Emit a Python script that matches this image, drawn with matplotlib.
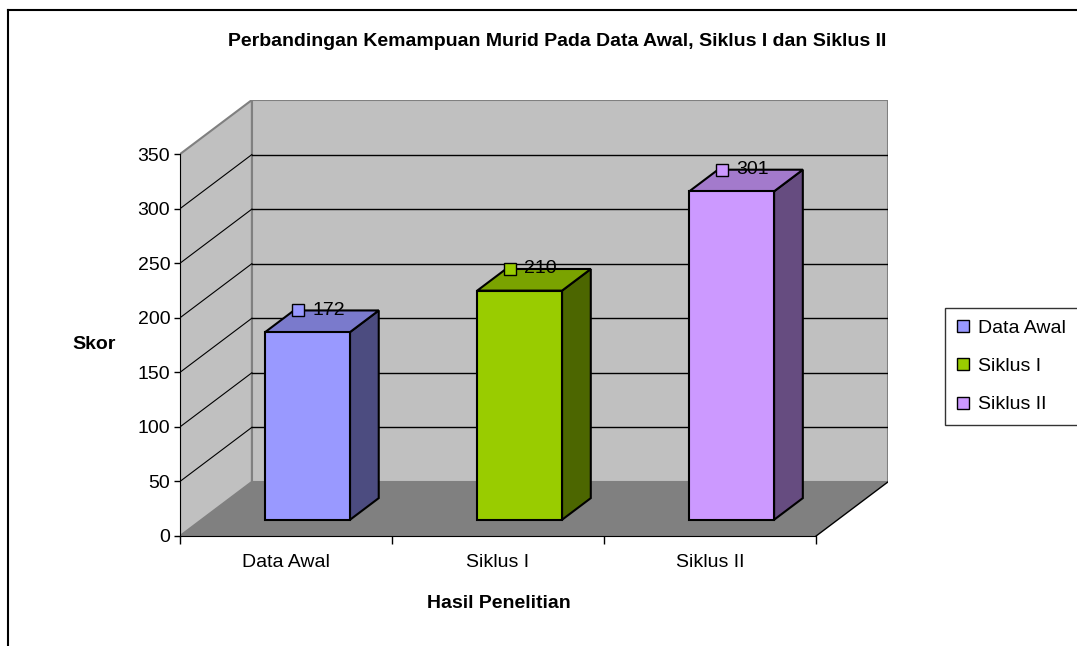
import numpy as np
import matplotlib.pyplot as plt
from matplotlib.patches import Polygon
from matplotlib.lines import Line2D
from matplotlib.transforms import ScaledTranslation

# === DATA ===
categories = ["Data Awal", "Siklus I", "Siklus II"]
values = [172, 210, 301]
y_ticks = [0, 50, 100, 150, 200, 250, 300, 350]

# === STYLE ===
front_colors = ["#9999FF", "#99CC00", "#CC99FF"]
top_colors = ["#7A7ACC", "#7AA300", "#A37ACC"]
side_colors = ["#4C4C80", "#4C6600", "#664C80"]
wall = "#C0C0C0"
floor = "#808080"
ymax = 350
DX, DY = 0.339, 49.6      # depth offset of the back wall (data units)
Z0, Z1 = 0.3, 0.7         # bar depth (fraction of full depth)
BW = 0.4                  # bar width
FS = 14

plt.rcParams["font.family"] = ["Liberation Sans", "DejaVu Sans"]
fig = plt.figure(figsize=(10.77, 6.46), dpi=100)
W, H = 1077, 646
ax = fig.add_axes([180 / W, 1 - 536 / H, 708 / W, 436 / H])
n = len(categories)
ax.set_xlim(0, n + DX)
ax.set_ylim(0, ymax + DY)
ax.patch.set_visible(False)

# walls and floor
ax.add_patch(Polygon([(DX, DY), (n + DX, DY), (n + DX, ymax + DY), (DX, ymax + DY)],
                     closed=True, fc=wall, ec=floor, lw=1.5, zorder=0))
ax.add_patch(Polygon([(0, 0), (DX, DY), (DX, ymax + DY), (0, ymax)],
                     closed=True, fc=wall, ec=floor, lw=1.5, zorder=0))
ax.add_patch(Polygon([(0, 0), (n, 0), (n + DX, DY), (DX, DY)],
                     closed=True, fc=floor, ec="none", zorder=0.5))
ax.plot([n, n + DX], [0, DY], color="black", lw=1, zorder=0.6)

# gridlines on back and side walls
for v in y_ticks[1:-1]:
    ax.plot([DX, n + DX], [v + DY, v + DY], color="black", lw=1, zorder=0.3)
    ax.plot([0, DX], [v, v + DY], color="black", lw=0.8, zorder=0.3)

# bars
marker_shift = ax.transData + ScaledTranslation(-17 / 72, 0, fig.dpi_scale_trans)
for i, v in enumerate(values):
    x0 = i + 0.5 - BW / 2
    x1 = i + 0.5 + BW / 2
    fx0, fx1 = x0 + Z0 * DX, x1 + Z0 * DX
    by0, by1 = Z0 * DY, Z1 * DY
    bx = (Z1 - Z0) * DX
    side = [(fx1, by0), (fx1 + bx, by1), (fx1 + bx, v + by1), (fx1, v + by0)]
    top = [(fx0, v + by0), (fx1, v + by0), (fx1 + bx, v + by1), (fx0 + bx, v + by1)]
    front = [(fx0, by0), (fx1, by0), (fx1, v + by0), (fx0, v + by0)]
    ax.add_patch(Polygon(side, closed=True, fc=side_colors[i], ec="black", lw=1.5, zorder=2))
    ax.add_patch(Polygon(top, closed=True, fc=top_colors[i], ec="black", lw=1.5, zorder=2))
    ax.add_patch(Polygon(front, closed=True, fc=front_colors[i], ec="black", lw=1.5, zorder=3))

    # data label with legend key
    lx = i + 0.5 + 0.5 * DX
    ly = v + Z1 * DY
    ax.plot([lx], [ly], marker="s", ms=8, mfc=front_colors[i], mec="black", mew=1,
            transform=marker_shift, zorder=5, clip_on=False)
    ax.annotate(str(v), xy=(lx, ly), xytext=(-7, 0), textcoords="offset points",
                ha="left", va="center", fontsize=FS, zorder=5)

# axes
for s in ["top", "right"]:
    ax.spines[s].set_visible(False)
ax.spines["left"].set_bounds(0, ymax)
ax.spines["bottom"].set_bounds(0, n)
ax.set_yticks(y_ticks)
ax.tick_params(axis="y", length=4, width=1, labelsize=FS, pad=3)
ax.set_xticks(np.arange(n + 1))
ax.set_xticklabels([])
ax.tick_params(axis="x", which="major", length=6, width=1)
ax.set_xticks(np.arange(n) + 0.5, minor=True)
ax.set_xticklabels(categories, minor=True, fontsize=FS)
ax.tick_params(axis="x", which="minor", length=0, pad=13)

fig.text(557 / W, 1 - 42 / H, "Perbandingan Kemampuan Murid Pada Data Awal, Siklus I dan Siklus II",
         ha="center", va="center", fontsize=FS, fontweight="bold")
fig.text(94 / W, 1 - 345 / H, "Skor", ha="center", va="center", fontsize=FS, fontweight="bold")
fig.text(499 / W, 1 - 604 / H, "Hasil Penelitian", ha="center", va="center", fontsize=FS, fontweight="bold")

# chart border (left and top edges visible)
fig.add_artist(Line2D([8 / W, 8 / W], [0, 1 - 10 / H], color="black", lw=1.5))
fig.add_artist(Line2D([8 / W, 1], [1 - 10 / H, 1 - 10 / H], color="black", lw=1.5))

# legend
handles = [Line2D([], [], ls="none", marker="s", ms=8, mfc=c, mec="black", mew=1)
           for c in front_colors]
leg = fig.legend(handles, categories, loc="upper left", bbox_to_anchor=(945 / W, 1 - 308 / H),
                 fontsize=FS, frameon=True, fancybox=False, edgecolor="black",
                 handlelength=0.6, handletextpad=0.5, labelspacing=1.05, borderpad=0.6,
                 borderaxespad=0)
leg.get_frame().set_linewidth(1)

fig.savefig("out.png", dpi=100, facecolor="white")
